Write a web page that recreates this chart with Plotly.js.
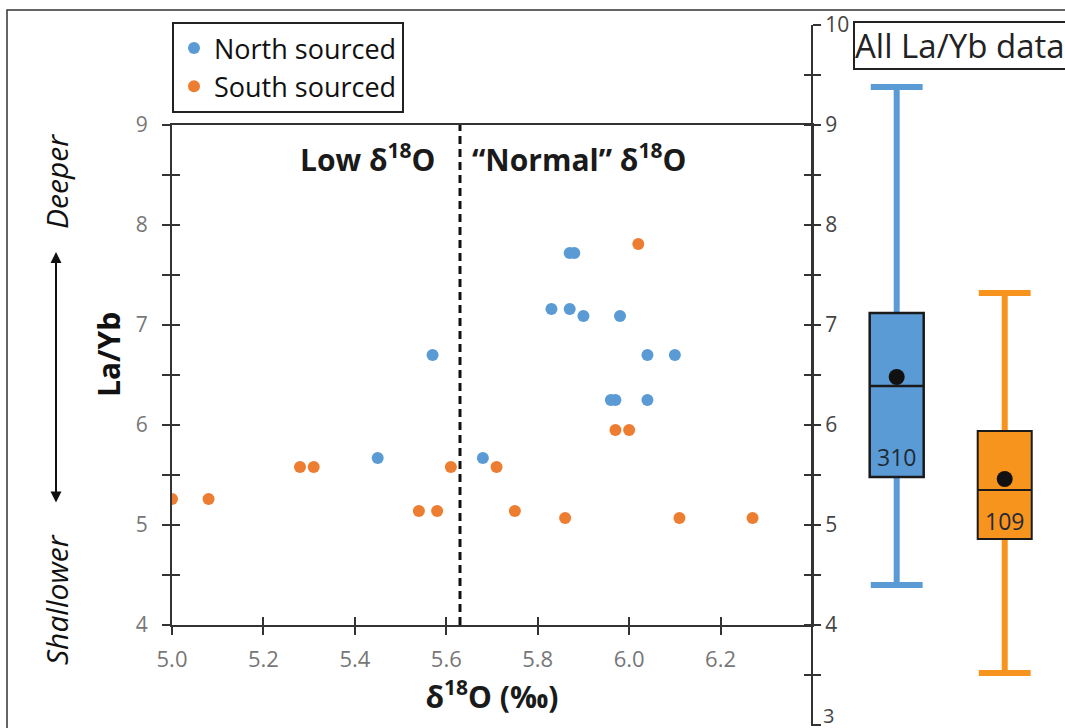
<!DOCTYPE html>
<html>
<head>
<meta charset="utf-8">
<script src="https://cdn.plot.ly/plotly-3.0.1.min.js"></script>
<style>html,body{margin:0;padding:0;background:#fff;}#chart{width:1065px;height:728px;}</style>
</head>
<body>
<div id="chart"></div>
<script>
// ---- data ----
const seriesNames = ['North sourced', 'South sourced'];
const northX = [5.45, 5.57, 5.68, 5.83, 5.87, 5.87, 5.88, 5.90, 5.96, 5.97, 5.98, 6.04, 6.04, 6.10];
const northY = [5.67, 6.70, 5.67, 7.16, 7.16, 7.72, 7.72, 7.09, 6.25, 6.25, 7.09, 6.70, 6.25, 6.70];
const southX = [5.00, 5.08, 5.28, 5.31, 5.54, 5.58, 5.61, 5.71, 5.75, 5.86, 5.97, 6.00, 6.02, 6.11, 6.27];
const southY = [5.26, 5.26, 5.58, 5.58, 5.14, 5.14, 5.58, 5.58, 5.14, 5.07, 5.95, 5.95, 7.81, 5.07, 5.07];
const splitX = 5.63;
const xTickVals = [5.0, 5.2, 5.4, 5.6, 5.8, 6.0, 6.2];
const xTickText = ['5.0', '5.2', '5.4', '5.6', '5.8', '6.0', '6.2'];
const rightAxisMin = 3;
// box summary (all La/Yb data)
const boxGroups = ['North sourced', 'South sourced'];
const boxLower  = [4.40, 3.52];
const boxQ1     = [5.48, 4.86];
const boxMedian = [6.39, 5.35];
const boxQ3     = [7.12, 5.94];
const boxUpper  = [9.38, 7.32];
const boxMean   = [6.48, 5.46];
const boxCount  = ['310', '109'];

// ---- style ----
const W = 1065, H = 728;
const px = v => v / W;
const py = v => 1 - v / H;
const BLUE = '#5B9BD5', ORANGE = '#ED7D31', BOXORANGE = '#F7941D';
const boxColors = [BLUE, BOXORANGE];
const AX = '#333333';
const FONT = 'Open Sans, Noto Sans, sans-serif';

const traces = [
  {type: 'scatter', mode: 'markers', name: seriesNames[0], x: northX, y: northY,
   marker: {color: BLUE, size: 12}},
  {type: 'scatter', mode: 'markers', name: seriesNames[1], x: southX, y: southY,
   marker: {color: ORANGE, size: 12}}
];
boxGroups.forEach((g, i) => {
  // whiskers
  traces.push({type: 'box', xaxis: 'x2', yaxis: 'y2', x: [g],
    q1: [boxMedian[i]], median: [boxMedian[i]], q3: [boxMedian[i]],
    lowerfence: [boxLower[i]], upperfence: [boxUpper[i]],
    line: {color: boxColors[i], width: 6}, fillcolor: boxColors[i],
    whiskerwidth: 0.96, width: 0.5, boxpoints: false, showlegend: false, hoverinfo: 'skip'});
  // box
  traces.push({type: 'box', xaxis: 'x2', yaxis: 'y2', x: [g],
    q1: [boxQ1[i]], median: [boxMedian[i]], q3: [boxQ3[i]],
    lowerfence: [boxQ1[i]], upperfence: [boxQ3[i]],
    line: {color: '#1a1a1a', width: i === 0 ? 2.5 : 2}, fillcolor: boxColors[i],
    whiskerwidth: 0, width: 0.5, boxpoints: false, showlegend: false});
});
traces.push({type: 'scatter', mode: 'markers', xaxis: 'x2', yaxis: 'y2', x: boxGroups, y: boxMean,
  marker: {color: '#111111', size: 16}, showlegend: false, name: 'mean'});
// empty traces so that the overlay axes (inner half of the crossing ticks) are drawn
[['x3', 'y'], ['x', 'y3'], ['x2', 'y4']].forEach(([xa, ya]) => {
  traces.push({type: 'scatter', mode: 'markers', x: [null], y: [null], xaxis: xa, yaxis: ya,
    showlegend: false, hoverinfo: 'skip'});
});

const tickCommon = {ticklen: 8, tickwidth: 2, tickcolor: AX, showgrid: false, zeroline: false};
const minorOut = {dtick: 0.5, tick0: 0, ticks: 'outside', ticklen: 8, tickwidth: 2, tickcolor: AX, showgrid: false};
const minorIn = {dtick: 0.5, tick0: 0, ticks: 'inside', ticklen: 8, tickwidth: 2, tickcolor: AX, showgrid: false};

const layout = {
  width: W, height: H,
  margin: {l: 0, r: 0, t: 0, b: 0},
  paper_bgcolor: '#ffffff', plot_bgcolor: '#ffffff',
  font: {family: FONT, color: '#222'},
  boxmode: 'overlay',
  showlegend: true,
  legend: {x: px(172), y: py(22), xanchor: 'left', yanchor: 'top',
    bgcolor: '#ffffff', bordercolor: '#222', borderwidth: 2,
    font: {size: 27, color: '#111', family: FONT}, itemwidth: 30, tracegroupgap: 0},
  xaxis: Object.assign({}, tickCommon, {
    domain: [px(172), px(812)], range: [5.0, 6.4], anchor: 'y',
    tickmode: 'array', tickvals: xTickVals, ticktext: xTickText, ticks: 'outside',
    showline: true, linecolor: AX, linewidth: 2, mirror: true,
    tickfont: {size: 22, color: '#777'}, ticklabelstandoff: 6,
    title: {text: '<b>δ<sup>18</sup>O (‰)</b>', font: {size: 30, color: '#1a1a1a'}, standoff: 4}
  }),
  xaxis3: Object.assign({}, tickCommon, {
    overlaying: 'x', anchor: 'y', range: [5.0, 6.4],
    tickmode: 'array', tickvals: xTickVals, ticks: 'inside', showticklabels: false, showline: false
  }),
  yaxis: Object.assign({}, tickCommon, {
    domain: [py(625), py(125)], range: [4, 9], anchor: 'x',
    dtick: 1, tick0: 0, ticks: 'outside', minor: minorOut,
    showline: true, linecolor: AX, linewidth: 2, mirror: true,
    tickfont: {size: 21, color: '#777'}, ticklabelstandoff: 10
  }),
  yaxis3: Object.assign({}, tickCommon, {
    overlaying: 'y', anchor: 'x', range: [4, 9], dtick: 1, tick0: 0, ticks: 'inside', minor: minorIn,
    showticklabels: false, showline: false
  }),
  xaxis2: {domain: [px(812), 1], anchor: 'y2', type: 'category', range: [-0.784, 1.558], visible: false, fixedrange: true},
  yaxis2: Object.assign({}, tickCommon, {
    domain: [py(726), py(25)], range: [2.99, 10], anchor: 'free', position: px(812), side: 'right',
    dtick: 1, tick0: 0, ticks: 'outside', minor: minorOut,
    showline: true, linecolor: AX, linewidth: 2,
    tickfont: {size: 21, color: '#444'}, ticklabelstandoff: 0
  }),
  yaxis4: Object.assign({}, tickCommon, {
    overlaying: 'y2', anchor: 'free', position: px(812), side: 'right', range: [2.99, 10],
    dtick: 1, tick0: 0, ticks: 'inside', minor: minorIn,
    showticklabels: false, showline: false
  }),
  shapes: [
    {type: 'line', xref: 'x', yref: 'y domain', x0: splitX, x1: splitX, y0: 0, y1: 1,
     line: {color: '#111', width: 3, dash: '8px,5px'}},
    {type: 'rect', xref: 'paper', yref: 'paper', x0: px(7), x1: 1.05, y0: py(10), y1: -0.05,
     line: {color: '#333', width: 1.5}}
  ],
  annotations: [
    {xref: 'paper', yref: 'paper', x: px(437), y: py(158), xanchor: 'right', yanchor: 'middle',
     text: '<b>Low δ<sup>18</sup>O</b>', showarrow: false, font: {size: 30, color: '#1a1a1a'}},
    {xref: 'paper', yref: 'paper', x: px(470), y: py(158), xanchor: 'left', yanchor: 'middle',
     text: '<b>“Normal” δ<sup>18</sup>O</b>', showarrow: false, font: {size: 30, color: '#1a1a1a'}},
    {xref: 'paper', yref: 'paper', x: px(108), y: py(355), xanchor: 'center', yanchor: 'middle', textangle: -90,
     text: '<b>La/Yb</b>', showarrow: false, font: {size: 30, color: '#111'}},
    {xref: 'paper', yref: 'paper', x: px(56), y: py(182), xanchor: 'center', yanchor: 'middle', textangle: -90,
     text: '<i>Deeper</i>', showarrow: false, font: {size: 30, color: '#111'}},
    {xref: 'paper', yref: 'paper', x: px(56), y: py(600), xanchor: 'center', yanchor: 'middle', textangle: -90,
     text: '<i>Shallower</i>', showarrow: false, font: {size: 30, color: '#111'}},
    {xref: 'paper', yref: 'paper', x: px(56), y: py(252), ax: 0, ay: 252, text: '',
     showarrow: true, arrowside: 'end+start', arrowhead: 2, arrowsize: 1.1, arrowwidth: 2, arrowcolor: '#111', standoff: 0, startstandoff: 0},
    {xref: 'paper', yref: 'paper', x: px(853), y: py(21), xanchor: 'left', yanchor: 'top',
     text: 'All La/Yb data', showarrow: false, font: {size: 33, color: '#222'},
     bordercolor: '#222', borderwidth: 2, borderpad: 0, bgcolor: '#fff'},
    // bottom label of the right-hand axis (Plotly drops it at the page edge)
    {xref: 'paper', yref: 'y2', x: px(821), y: rightAxisMin, xanchor: 'left', yanchor: 'middle', yshift: 10,
     text: String(rightAxisMin), showarrow: false, font: {size: 20, color: '#444'}},
    {xref: 'x2', yref: 'y2', x: boxGroups[0], y: boxQ1[0], yanchor: 'bottom', yshift: 2,
     text: boxCount[0], showarrow: false, font: {size: 23, color: '#1f2a36'}},
    {xref: 'x2', yref: 'y2', x: boxGroups[1], y: boxQ1[1], yanchor: 'bottom', yshift: 0,
     text: boxCount[1], showarrow: false, font: {size: 23, color: '#1f2a36'}}
  ]
};

Plotly.newPlot('chart', traces, layout, {displayModeBar: false, staticPlot: true});
</script>
</body>
</html>
